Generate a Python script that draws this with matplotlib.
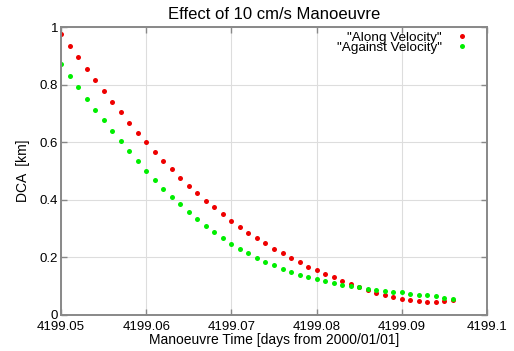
import matplotlib.pyplot as plt
from matplotlib.ticker import FixedLocator

plt.rcParams['font.family'] = ['Liberation Sans', 'DejaVu Sans']

# manoeuvre epochs, one every 0.001 day
times = [4199.050, 4199.051, 4199.052, 4199.053, 4199.054, 4199.055, 4199.056,
         4199.057, 4199.058, 4199.059, 4199.060, 4199.061, 4199.062, 4199.063,
         4199.064, 4199.065, 4199.066, 4199.067, 4199.068, 4199.069, 4199.070,
         4199.071, 4199.072, 4199.073, 4199.074, 4199.075, 4199.076, 4199.077,
         4199.078, 4199.079, 4199.080, 4199.081, 4199.082, 4199.083, 4199.084,
         4199.085, 4199.086, 4199.087, 4199.088, 4199.089, 4199.090, 4199.091,
         4199.092, 4199.093, 4199.094, 4199.095, 4199.096]

dca_along = [0.976, 0.937, 0.896, 0.856, 0.817, 0.779, 0.742, 0.705, 0.669, 0.634,
             0.601, 0.568, 0.537, 0.507, 0.478, 0.450, 0.423, 0.398, 0.374, 0.350,
             0.328, 0.307, 0.286, 0.267, 0.249, 0.231, 0.215, 0.198, 0.183, 0.168,
             0.155, 0.144, 0.131, 0.118, 0.108, 0.097, 0.087, 0.077, 0.068, 0.063,
             0.056, 0.051, 0.048, 0.045, 0.045, 0.048, 0.052]

dca_against = [0.873, 0.832, 0.793, 0.752, 0.714, 0.677, 0.640, 0.604, 0.569, 0.536,
               0.502, 0.470, 0.439, 0.412, 0.385, 0.358, 0.334, 0.310, 0.289, 0.268,
               0.248, 0.231, 0.215, 0.199, 0.184, 0.173, 0.160, 0.150, 0.140, 0.131,
               0.124, 0.117, 0.110, 0.104, 0.100, 0.096, 0.090, 0.088, 0.085, 0.081,
               0.079, 0.074, 0.071, 0.068, 0.065, 0.060, 0.055]

xticks = [4199.05, 4199.06, 4199.07, 4199.08, 4199.09, 4199.1]
xtick_labels = ['4199.05', '4199.06', '4199.07', '4199.08', '4199.09', '4199.1']
yticks = [0, 0.2, 0.4, 0.6, 0.8, 1]
ytick_labels = ['0', '0.2', '0.4', '0.6', '0.8', '1']

fig = plt.figure(figsize=(5.14, 3.51), dpi=100)
ax = fig.add_axes([0.1187, 0.1026, 0.8288, 0.8191])

ax.plot(times, dca_along, 'o', color='#ee0000', markersize=3.6, markeredgewidth=0,
        label='"Along Velocity"')
ax.plot(times, dca_against, 'o', color='#00ee00', markersize=3.6, markeredgewidth=0,
        label='"Against Velocity"')

ax.set_xlim(4199.05, 4199.1)
ax.set_ylim(0, 1)
ax.xaxis.set_major_locator(FixedLocator(xticks))
ax.set_xticklabels(xtick_labels)
ax.yaxis.set_major_locator(FixedLocator(yticks))
ax.set_yticklabels(ytick_labels)

ax.grid(True, color='#dddddd', linewidth=0.8)
ax.set_axisbelow(True)
for s in ax.spines.values():
    s.set_color('#888888')
    s.set_linewidth(1.4)
ax.tick_params(direction='in', length=4, width=1, color='#888888',
               top=True, right=True, labelsize=9.5, pad=2)
ax.tick_params(axis='x', pad=4)

ax.set_title('Effect of 10 cm/s Manoeuvre', fontsize=12, pad=6)
ax.set_xlabel('Manoeuvre Time [days from 2000/01/01]', fontsize=10, labelpad=0)
ax.set_ylabel('DCA  [km]', fontsize=10, labelpad=7)

leg = ax.legend(loc='upper right', frameon=False, markerfirst=False, fontsize=9.7,
                handlelength=1, handletextpad=1.0, labelspacing=-0.22,
                borderaxespad=0.3, bbox_to_anchor=(0.98, 1.018))

fig.savefig('out.png', dpi=100)
